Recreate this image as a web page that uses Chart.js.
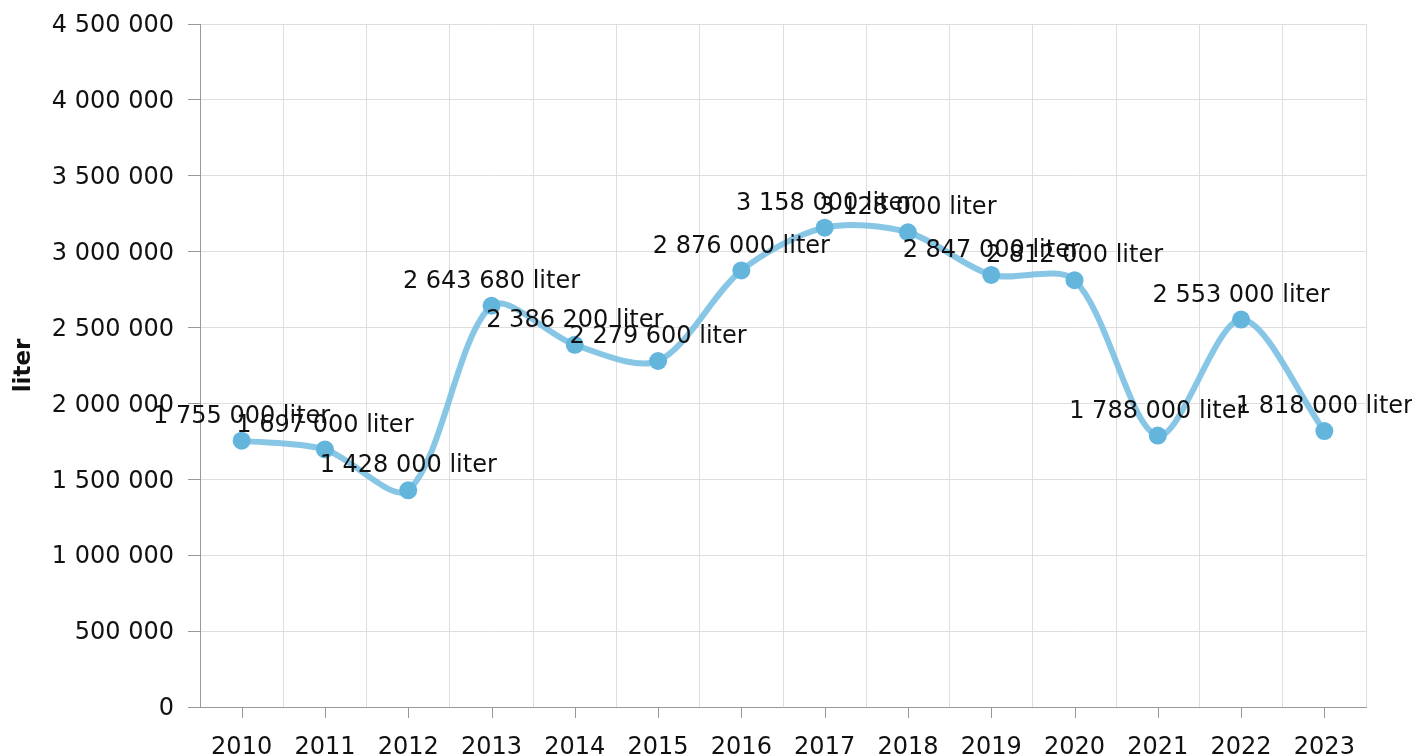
<!DOCTYPE html>
<html>
<head>
<meta charset="utf-8">
<script src="https://cdn.jsdelivr.net/npm/chart.js@4/dist/chart.umd.min.js"></script>
<style>
html,body{margin:0;padding:0;background:#fff;}
#wrap{width:1412px;height:756px;position:relative;}
</style>
</head>
<body>
<div id="wrap"><canvas id="c" width="1412" height="756"></canvas></div>
<script>
const years = ['2010','2011','2012','2013','2014','2015','2016','2017','2018','2019','2020','2021','2022','2023'];
const volumes = [1755000,1697000,1428000,2643680,2386200,2279600,2876000,3158000,3128000,2847000,2812000,1788000,2553000,1818000];
const unitLabel = 'liter';
const yMax = 4500000;
const yStep = 500000;

const FONT = 'DejaVu Sans, Verdana, sans-serif';
function fmt(v){ return String(Math.round(v)).replace(/\B(?=(\d{3})+(?!\d))/g,' '); }

const extras = {
  id:'extras',
  afterDatasetsDraw(chart){
    const ctx = chart.ctx;
    const x = chart.scales.x, y = chart.scales.y;
    ctx.save();
    ctx.strokeStyle = '#999';
    ctx.lineWidth = 1;
    for (let i=0;i<years.length;i++){
      const px = Math.round(x.getPixelForTick(i))+0.5;
      ctx.beginPath(); ctx.moveTo(px, y.bottom); ctx.lineTo(px, y.bottom+11); ctx.stroke();
    }
    const meta = chart.getDatasetMeta(0);
    ctx.fillStyle = '#111';
    ctx.font = '24px ' + FONT;
    ctx.textAlign = 'center';
    ctx.textBaseline = 'middle';
    meta.data.forEach((pt,i)=>{
      ctx.fillText(fmt(volumes[i]) + ' ' + unitLabel, pt.x, pt.y - 24);
    });
    ctx.restore();
  }
};

new Chart(document.getElementById('c'), {
  type:'line',
  data:{
    labels: years,
    datasets:[{
      data: volumes,
      borderColor:'rgba(115,188,226,0.85)',
      borderWidth:6,
      tension:0.3,
      pointRadius:9,
      pointBackgroundColor:'#64b5dc',
      pointBorderWidth:0,
      fill:false
    }]
  },
  options:{
    responsive:false,
    animation:false,
    layout:{padding:{left:0,right:46,top:0,bottom:0}},
    plugins:{legend:{display:false},tooltip:{enabled:false}},
    scales:{
      x:{
        offset:true,
        grid:{offset:true,color:'#dedede',drawTicks:false,lineWidth:1},
        border:{color:'#999',width:1},
        ticks:{font:{family:FONT,size:24},color:'#111',padding:26,maxRotation:0},
        afterFit(s){ s.height = 49; }
      },
      y:{
        min:0,max:yMax,
        grid:{color:'#dedede',tickLength:12,tickColor:'#999'},
        border:{color:'#999',width:1},
        ticks:{stepSize:yStep,font:{family:FONT,size:24},color:'#111',padding:14,labelOffset:2,callback:v=>fmt(v)},
        title:{display:true,text:unitLabel,font:{family:FONT,size:23,weight:'bold'},color:'#111',padding:{top:10,bottom:0}},
        afterFit(s){ s.width = 200; s.paddingTop = 24; s.paddingBottom = 0; }
      }
    }
  },
  plugins:[extras]
});
</script>
</body>
</html>
